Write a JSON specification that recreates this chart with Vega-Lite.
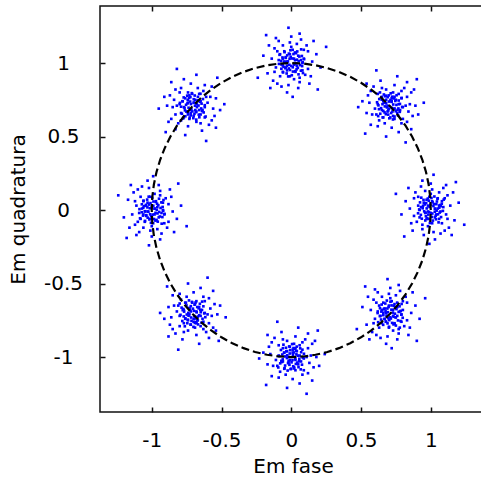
{
"$schema": "https://vega.github.io/schema/vega-lite/v6.json",
"width": 386, "height": 406,
"autosize": {"type": "none"},
"padding": {"left": 100, "top": 6, "right": 0, "bottom": 67},
"background": "white",
"config": {
  "view": {"stroke": "#111", "strokeWidth": 1.5},
  "axis": {"labelFont": "DejaVu Sans", "titleFont": "DejaVu Sans", "labelFontSize": 20, "titleFontSize": 20, "titleFontWeight": "normal", "labelColor": "black", "titleColor": "black", "tickColor": "#111", "tickWidth": 1.5, "tickSize": -5, "domain": false, "grid": false}
},
"datasets": {
"pts": [
{"x":1.03,"y":-0.05},{"x":0.93,"y":0.02},{"x":1.10,"y":0.08},{"x":0.98,"y":-0.11},{"x":1.05,"y":0.01},{"x":0.88,"y":-0.04},{"x":1.01,"y":0.06},{"x":1.08,"y":-0.09},{"x":0.96,"y":0.13},{"x":1.00,"y":-0.02},
{"x":1.14,"y":0.03},{"x":0.91,"y":0.09},{"x":1.06,"y":0.12},{"x":0.97,"y":-0.06},{"x":0.85,"y":0.01},{"x":1.02,"y":-0.15},{"x":1.11,"y":-0.03},{"x":0.94,"y":-0.13},{"x":1.04,"y":0.04},{"x":0.99,"y":0.09},
{"x":1.09,"y":0.15},{"x":0.90,"y":-0.08},{"x":1.07,"y":-0.01},{"x":0.95,"y":0.05},{"x":1.17,"y":-0.07},{"x":0.92,"y":0.00},{"x":1.00,"y":0.18},{"x":1.03,"y":-0.20},{"x":0.82,"y":0.06},{"x":1.12,"y":0.10},
{"x":0.98,"y":0.03},{"x":1.06,"y":-0.06},{"x":0.89,"y":0.12},{"x":1.13,"y":-0.12},{"x":0.96,"y":-0.02},{"x":1.01,"y":-0.09},{"x":0.93,"y":0.16},{"x":1.09,"y":0.02},{"x":0.87,"y":-0.14},{"x":1.05,"y":0.08},
{"x":1.20,"y":0.05},{"x":0.79,"y":-0.03},{"x":1.02,"y":0.24},{"x":0.99,"y":-0.23},{"x":1.15,"y":-0.17},{"x":0.84,"y":0.15},{"x":1.08,"y":0.06},{"x":0.94,"y":-0.10},{"x":1.04,"y":-0.03},{"x":0.97,"y":0.07},
{"x":1.10,"y":-0.14},{"x":0.91,"y":0.03},{"x":1.00,"y":0.11},{"x":1.07,"y":-0.16},{"x":0.88,"y":0.08},{"x":1.16,"y":0.12},{"x":0.95,"y":-0.17},{"x":1.03,"y":0.01},{"x":0.92,"y":-0.05},{"x":1.11,"y":0.17},
{"x":1.24,"y":-0.10},{"x":0.75,"y":0.11},{"x":1.06,"y":0.03},{"x":0.98,"y":-0.01},{"x":1.01,"y":0.14},{"x":0.86,"y":-0.09},{"x":1.12,"y":-0.06},{"x":0.94,"y":0.20},{"x":1.18,"y":0.19},{"x":0.81,"y":-0.18},
{"x":1.023,"y":0.041},{"x":0.963,"y":-0.018},{"x":1.052,"y":-0.029},{"x":0.986,"y":0.063},{"x":1.008,"y":-0.047},{"x":0.942,"y":0.012},{"x":1.031,"y":0.007},{"x":0.974,"y":-0.055},{"x":1.067,"y":0.034},{"x":0.957,"y":0.038},
{"x":1.015,"y":-0.072},{"x":0.929,"y":-0.033},{"x":1.044,"y":0.058},{"x":0.991,"y":0.021},{"x":1.029,"y":-0.012},{"x":0.948,"y":0.069},{"x":1.074,"y":-0.048},{"x":0.982,"y":-0.031},{"x":1.005,"y":0.082},{"x":0.917,"y":0.004},
{"x":1.038,"y":-0.063},{"x":0.967,"y":0.047},{"x":1.061,"y":0.016},{"x":0.994,"y":-0.088},{"x":1.019,"y":0.027},{"x":0.936,"y":-0.059},{"x":1.087,"y":-0.006},{"x":0.971,"y":0.011},{"x":1.048,"y":0.076},{"x":0.953,"y":-0.009},
{"x":1.011,"y":-0.024},{"x":0.923,"y":0.052},{"x":1.056,"y":-0.084},{"x":0.979,"y":0.078},{"x":1.035,"y":-0.039},{"x":0.961,"y":-0.071},{"x":1.079,"y":0.043},{"x":0.988,"y":-0.014},{"x":1.026,"y":0.092},{"x":0.909,"y":-0.022},
{"x":1.064,"y":-0.017},{"x":0.945,"y":0.029},{"x":1.013,"y":0.053},{"x":0.965,"y":-0.042},{"x":1.042,"y":-0.004},{"x":0.998,"y":0.036},{"x":1.093,"y":0.071},{"x":0.932,"y":0.084},{"x":1.071,"y":0.026},{"x":0.984,"y":-0.061},

{"x":0.66,"y":0.74},{"x":0.73,"y":0.64},{"x":0.79,"y":0.81},{"x":0.60,"y":0.69},{"x":0.72,"y":0.76},{"x":0.67,"y":0.59},{"x":0.77,"y":0.72},{"x":0.62,"y":0.79},{"x":0.84,"y":0.67},{"x":0.69,"y":0.71},
{"x":0.74,"y":0.85},{"x":0.80,"y":0.62},{"x":0.83,"y":0.77},{"x":0.65,"y":0.68},{"x":0.72,"y":0.56},{"x":0.56,"y":0.73},{"x":0.68,"y":0.82},{"x":0.58,"y":0.65},{"x":0.75,"y":0.75},{"x":0.80,"y":0.70},
{"x":0.86,"y":0.80},{"x":0.63,"y":0.61},{"x":0.70,"y":0.78},{"x":0.76,"y":0.66},{"x":0.64,"y":0.88},{"x":0.71,"y":0.63},{"x":0.89,"y":0.71},{"x":0.51,"y":0.74},{"x":0.77,"y":0.53},{"x":0.81,"y":0.83},
{"x":0.74,"y":0.69},{"x":0.65,"y":0.77},{"x":0.83,"y":0.60},{"x":0.59,"y":0.84},{"x":0.69,"y":0.67},{"x":0.62,"y":0.72},{"x":0.87,"y":0.64},{"x":0.73,"y":0.80},{"x":0.57,"y":0.58},{"x":0.79,"y":0.76},
{"x":0.76,"y":0.91},{"x":0.68,"y":0.50},{"x":0.95,"y":0.73},{"x":0.48,"y":0.70},{"x":0.54,"y":0.86},{"x":0.86,"y":0.55},{"x":0.77,"y":0.79},{"x":0.61,"y":0.65},{"x":0.68,"y":0.75},{"x":0.78,"y":0.68},
{"x":0.57,"y":0.81},{"x":0.74,"y":0.62},{"x":0.82,"y":0.71},{"x":0.55,"y":0.78},{"x":0.79,"y":0.59},{"x":0.83,"y":0.87},{"x":0.54,"y":0.66},{"x":0.72,"y":0.74},{"x":0.66,"y":0.63},{"x":0.88,"y":0.82},
{"x":0.61,"y":0.95},{"x":0.82,"y":0.46},{"x":0.74,"y":0.77},{"x":0.70,"y":0.69},{"x":0.85,"y":0.72},{"x":0.62,"y":0.57},{"x":0.65,"y":0.83},{"x":0.91,"y":0.65},{"x":0.90,"y":0.89},{"x":0.53,"y":0.52},
{"x":0.666,"y":0.730},{"x":0.725,"y":0.670},{"x":0.736,"y":0.759},{"x":0.644,"y":0.693},{"x":0.754,"y":0.715},{"x":0.695,"y":0.649},{"x":0.700,"y":0.738},{"x":0.762,"y":0.681},{"x":0.673,"y":0.774},{"x":0.669,"y":0.664},
{"x":0.779,"y":0.722},{"x":0.740,"y":0.636},{"x":0.649,"y":0.751},{"x":0.686,"y":0.698},{"x":0.719,"y":0.736},{"x":0.638,"y":0.655},{"x":0.755,"y":0.781},{"x":0.738,"y":0.689},{"x":0.625,"y":0.712},{"x":0.703,"y":0.624},
{"x":0.770,"y":0.745},{"x":0.660,"y":0.674},{"x":0.691,"y":0.768},{"x":0.795,"y":0.701},{"x":0.680,"y":0.726},{"x":0.766,"y":0.643},{"x":0.713,"y":0.794},{"x":0.696,"y":0.678},{"x":0.631,"y":0.755},{"x":0.716,"y":0.660},
{"x":0.731,"y":0.718},{"x":0.655,"y":0.630},{"x":0.791,"y":0.763},{"x":0.629,"y":0.686},{"x":0.746,"y":0.742},{"x":0.778,"y":0.668},{"x":0.664,"y":0.786},{"x":0.721,"y":0.695},{"x":0.615,"y":0.733},{"x":0.729,"y":0.616},
{"x":0.724,"y":0.771},{"x":0.678,"y":0.652},{"x":0.654,"y":0.720},{"x":0.749,"y":0.672},{"x":0.711,"y":0.749},{"x":0.671,"y":0.705},{"x":0.636,"y":0.800},{"x":0.623,"y":0.639},{"x":0.681,"y":0.778},{"x":0.768,"y":0.691},

{"x":-0.03,"y":0.95},{"x":0.07,"y":1.02},{"x":-0.10,"y":1.08},{"x":0.02,"y":0.89},{"x":-0.05,"y":1.01},{"x":0.12,"y":0.96},{"x":-0.01,"y":1.06},{"x":-0.08,"y":0.91},{"x":0.04,"y":1.13},{"x":0.00,"y":0.98},
{"x":-0.14,"y":1.03},{"x":0.09,"y":1.09},{"x":-0.06,"y":1.12},{"x":0.03,"y":0.94},{"x":0.15,"y":1.01},{"x":-0.02,"y":0.85},{"x":-0.11,"y":0.97},{"x":0.06,"y":0.87},{"x":-0.04,"y":1.04},{"x":0.01,"y":1.09},
{"x":-0.09,"y":1.15},{"x":0.10,"y":0.92},{"x":-0.07,"y":0.99},{"x":0.05,"y":1.05},{"x":-0.17,"y":0.93},{"x":0.08,"y":1.00},{"x":0.00,"y":1.18},{"x":-0.03,"y":0.80},{"x":0.18,"y":1.06},{"x":-0.12,"y":1.10},
{"x":0.02,"y":1.03},{"x":-0.06,"y":0.94},{"x":0.11,"y":1.12},{"x":-0.13,"y":0.88},{"x":0.04,"y":0.98},{"x":-0.01,"y":0.91},{"x":0.07,"y":1.16},{"x":-0.09,"y":1.02},{"x":0.13,"y":0.86},{"x":-0.05,"y":1.08},
{"x":-0.20,"y":1.05},{"x":0.21,"y":0.97},{"x":-0.02,"y":1.24},{"x":0.01,"y":0.77},{"x":-0.15,"y":0.83},{"x":0.16,"y":1.15},{"x":-0.08,"y":1.06},{"x":0.06,"y":0.90},{"x":-0.04,"y":0.97},{"x":0.03,"y":1.07},
{"x":-0.10,"y":0.86},{"x":0.09,"y":1.03},{"x":0.00,"y":1.11},{"x":-0.07,"y":0.84},{"x":0.12,"y":1.08},{"x":-0.16,"y":1.12},{"x":0.05,"y":0.83},{"x":-0.03,"y":1.01},{"x":0.08,"y":0.95},{"x":-0.11,"y":1.17},
{"x":-0.24,"y":0.90},{"x":0.25,"y":1.11},{"x":-0.06,"y":1.03},{"x":0.02,"y":0.99},{"x":-0.01,"y":1.14},{"x":0.14,"y":0.91},{"x":-0.12,"y":0.94},{"x":0.06,"y":1.20},{"x":-0.18,"y":1.19},{"x":0.19,"y":0.82},
{"x":0.041,"y":1.023},{"x":-0.018,"y":0.963},{"x":-0.029,"y":1.052},{"x":0.063,"y":0.986},{"x":-0.047,"y":1.008},{"x":0.012,"y":0.942},{"x":0.007,"y":1.031},{"x":-0.055,"y":0.974},{"x":0.034,"y":1.067},{"x":0.038,"y":0.957},
{"x":-0.072,"y":1.015},{"x":-0.033,"y":0.929},{"x":0.058,"y":1.044},{"x":0.021,"y":0.991},{"x":-0.012,"y":1.029},{"x":0.069,"y":0.948},{"x":-0.048,"y":1.074},{"x":-0.031,"y":0.982},{"x":0.082,"y":1.005},{"x":0.004,"y":0.917},
{"x":-0.063,"y":1.038},{"x":0.047,"y":0.967},{"x":0.016,"y":1.061},{"x":-0.088,"y":0.994},{"x":0.027,"y":1.019},{"x":-0.059,"y":0.936},{"x":-0.006,"y":1.087},{"x":0.011,"y":0.971},{"x":0.076,"y":1.048},{"x":-0.009,"y":0.953},
{"x":-0.024,"y":1.011},{"x":0.052,"y":0.923},{"x":-0.084,"y":1.056},{"x":0.078,"y":0.979},{"x":-0.039,"y":1.035},{"x":-0.071,"y":0.961},{"x":0.043,"y":1.079},{"x":-0.014,"y":0.988},{"x":0.092,"y":1.026},{"x":-0.022,"y":0.909},
{"x":-0.017,"y":1.064},{"x":0.029,"y":0.945},{"x":0.053,"y":1.013},{"x":-0.042,"y":0.965},{"x":-0.004,"y":1.042},{"x":0.036,"y":0.998},{"x":0.071,"y":1.093},{"x":0.084,"y":0.932},{"x":0.026,"y":1.071},{"x":-0.061,"y":0.984},

{"x":-0.66,"y":0.68},{"x":-0.73,"y":0.78},{"x":-0.79,"y":0.61},{"x":-0.60,"y":0.73},{"x":-0.72,"y":0.66},{"x":-0.67,"y":0.83},{"x":-0.77,"y":0.70},{"x":-0.62,"y":0.63},{"x":-0.84,"y":0.75},{"x":-0.69,"y":0.71},
{"x":-0.74,"y":0.57},{"x":-0.80,"y":0.80},{"x":-0.83,"y":0.65},{"x":-0.65,"y":0.74},{"x":-0.72,"y":0.86},{"x":-0.56,"y":0.69},{"x":-0.68,"y":0.60},{"x":-0.58,"y":0.77},{"x":-0.75,"y":0.67},{"x":-0.80,"y":0.72},
{"x":-0.86,"y":0.62},{"x":-0.63,"y":0.81},{"x":-0.70,"y":0.64},{"x":-0.76,"y":0.76},{"x":-0.64,"y":0.54},{"x":-0.71,"y":0.79},{"x":-0.89,"y":0.71},{"x":-0.51,"y":0.68},{"x":-0.77,"y":0.89},{"x":-0.81,"y":0.59},
{"x":-0.74,"y":0.73},{"x":-0.65,"y":0.65},{"x":-0.83,"y":0.82},{"x":-0.59,"y":0.58},{"x":-0.69,"y":0.75},{"x":-0.62,"y":0.70},{"x":-0.87,"y":0.78},{"x":-0.73,"y":0.62},{"x":-0.57,"y":0.84},{"x":-0.79,"y":0.66},
{"x":-0.76,"y":0.51},{"x":-0.68,"y":0.92},{"x":-0.95,"y":0.69},{"x":-0.48,"y":0.72},{"x":-0.54,"y":0.56},{"x":-0.86,"y":0.87},{"x":-0.77,"y":0.63},{"x":-0.61,"y":0.77},{"x":-0.68,"y":0.67},{"x":-0.78,"y":0.74},
{"x":-0.57,"y":0.61},{"x":-0.74,"y":0.80},{"x":-0.82,"y":0.71},{"x":-0.55,"y":0.64},{"x":-0.79,"y":0.83},{"x":-0.83,"y":0.55},{"x":-0.54,"y":0.76},{"x":-0.72,"y":0.68},{"x":-0.66,"y":0.79},{"x":-0.88,"y":0.60},
{"x":-0.61,"y":0.47},{"x":-0.82,"y":0.96},{"x":-0.74,"y":0.65},{"x":-0.70,"y":0.73},{"x":-0.85,"y":0.70},{"x":-0.62,"y":0.85},{"x":-0.65,"y":0.59},{"x":-0.91,"y":0.77},{"x":-0.90,"y":0.53},{"x":-0.53,"y":0.90},
{"x":-0.684,"y":0.666},{"x":-0.744,"y":0.725},{"x":-0.655,"y":0.736},{"x":-0.721,"y":0.644},{"x":-0.699,"y":0.754},{"x":-0.765,"y":0.695},{"x":-0.676,"y":0.700},{"x":-0.733,"y":0.762},{"x":-0.640,"y":0.673},{"x":-0.750,"y":0.669},
{"x":-0.692,"y":0.779},{"x":-0.778,"y":0.740},{"x":-0.663,"y":0.649},{"x":-0.716,"y":0.686},{"x":-0.678,"y":0.719},{"x":-0.759,"y":0.638},{"x":-0.633,"y":0.755},{"x":-0.725,"y":0.738},{"x":-0.702,"y":0.625},{"x":-0.790,"y":0.703},
{"x":-0.669,"y":0.770},{"x":-0.740,"y":0.660},{"x":-0.646,"y":0.691},{"x":-0.713,"y":0.795},{"x":-0.688,"y":0.680},{"x":-0.771,"y":0.766},{"x":-0.620,"y":0.713},{"x":-0.736,"y":0.696},{"x":-0.659,"y":0.631},{"x":-0.754,"y":0.716},
{"x":-0.696,"y":0.731},{"x":-0.784,"y":0.655},{"x":-0.651,"y":0.791},{"x":-0.728,"y":0.629},{"x":-0.672,"y":0.746},{"x":-0.746,"y":0.778},{"x":-0.628,"y":0.664},{"x":-0.719,"y":0.721},{"x":-0.681,"y":0.615},{"x":-0.798,"y":0.729},
{"x":-0.643,"y":0.724},{"x":-0.762,"y":0.678},{"x":-0.694,"y":0.654},{"x":-0.742,"y":0.749},{"x":-0.665,"y":0.711},{"x":-0.709,"y":0.671},{"x":-0.614,"y":0.636},{"x":-0.775,"y":0.623},{"x":-0.636,"y":0.681},{"x":-0.723,"y":0.768},

{"x":-1.03,"y":0.05},{"x":-0.93,"y":-0.02},{"x":-1.10,"y":-0.08},{"x":-0.98,"y":0.11},{"x":-1.05,"y":-0.01},{"x":-0.88,"y":0.04},{"x":-1.01,"y":-0.06},{"x":-1.08,"y":0.09},{"x":-0.96,"y":-0.13},{"x":-1.00,"y":0.02},
{"x":-1.14,"y":-0.03},{"x":-0.91,"y":-0.09},{"x":-1.06,"y":-0.12},{"x":-0.97,"y":0.06},{"x":-0.85,"y":-0.01},{"x":-1.02,"y":0.15},{"x":-1.11,"y":0.03},{"x":-0.94,"y":0.13},{"x":-1.04,"y":-0.04},{"x":-0.99,"y":-0.09},
{"x":-1.09,"y":-0.15},{"x":-0.90,"y":0.08},{"x":-1.07,"y":0.01},{"x":-0.95,"y":-0.05},{"x":-1.17,"y":0.07},{"x":-0.92,"y":0.00},{"x":-1.00,"y":-0.18},{"x":-1.03,"y":0.20},{"x":-0.82,"y":-0.06},{"x":-1.12,"y":-0.10},
{"x":-0.98,"y":-0.03},{"x":-1.06,"y":0.06},{"x":-0.89,"y":-0.12},{"x":-1.13,"y":0.12},{"x":-0.96,"y":0.02},{"x":-1.01,"y":0.09},{"x":-0.93,"y":-0.16},{"x":-1.09,"y":-0.02},{"x":-0.87,"y":0.14},{"x":-1.05,"y":-0.08},
{"x":-1.20,"y":-0.05},{"x":-0.79,"y":0.03},{"x":-1.02,"y":-0.24},{"x":-0.99,"y":0.23},{"x":-1.15,"y":0.17},{"x":-0.84,"y":-0.15},{"x":-1.08,"y":-0.06},{"x":-0.94,"y":0.10},{"x":-1.04,"y":0.03},{"x":-0.97,"y":-0.07},
{"x":-1.10,"y":0.14},{"x":-0.91,"y":-0.03},{"x":-1.00,"y":-0.11},{"x":-1.07,"y":0.16},{"x":-0.88,"y":-0.08},{"x":-1.16,"y":-0.12},{"x":-0.95,"y":0.17},{"x":-1.03,"y":-0.01},{"x":-0.92,"y":0.05},{"x":-1.11,"y":-0.17},
{"x":-1.24,"y":0.10},{"x":-0.75,"y":-0.11},{"x":-1.06,"y":-0.03},{"x":-0.98,"y":0.01},{"x":-1.01,"y":-0.14},{"x":-0.86,"y":0.09},{"x":-1.12,"y":0.06},{"x":-0.94,"y":-0.20},{"x":-1.18,"y":-0.19},{"x":-0.81,"y":0.18},
{"x":-0.959,"y":-0.023},{"x":-1.018,"y":0.037},{"x":-1.029,"y":-0.052},{"x":-0.937,"y":0.014},{"x":-1.047,"y":-0.008},{"x":-0.988,"y":0.058},{"x":-0.993,"y":-0.031},{"x":-1.055,"y":0.026},{"x":-0.966,"y":-0.067},{"x":-0.962,"y":0.043},
{"x":-1.072,"y":-0.015},{"x":-1.033,"y":0.071},{"x":-0.942,"y":-0.044},{"x":-0.979,"y":0.009},{"x":-1.012,"y":-0.029},{"x":-0.931,"y":0.052},{"x":-1.048,"y":-0.074},{"x":-1.031,"y":0.018},{"x":-0.918,"y":-0.005},{"x":-0.996,"y":0.083},
{"x":-1.063,"y":-0.038},{"x":-0.953,"y":0.033},{"x":-0.984,"y":-0.061},{"x":-1.088,"y":0.006},{"x":-0.973,"y":-0.019},{"x":-1.059,"y":0.064},{"x":-1.006,"y":-0.087},{"x":-0.989,"y":0.029},{"x":-0.924,"y":-0.048},{"x":-1.009,"y":0.047},
{"x":-1.024,"y":-0.011},{"x":-0.948,"y":0.077},{"x":-1.084,"y":-0.056},{"x":-0.922,"y":0.021},{"x":-1.039,"y":-0.035},{"x":-1.071,"y":0.039},{"x":-0.957,"y":-0.079},{"x":-1.014,"y":0.012},{"x":-0.908,"y":-0.026},{"x":-1.022,"y":0.091},
{"x":-1.017,"y":-0.064},{"x":-0.971,"y":0.055},{"x":-0.947,"y":-0.013},{"x":-1.042,"y":0.035},{"x":-1.004,"y":-0.042},{"x":-0.964,"y":0.002},{"x":-0.929,"y":-0.093},{"x":-0.916,"y":0.068},{"x":-0.974,"y":-0.071},{"x":-1.061,"y":0.016},

{"x":-0.76,"y":-0.74},{"x":-0.69,"y":-0.64},{"x":-0.63,"y":-0.81},{"x":-0.82,"y":-0.69},{"x":-0.70,"y":-0.76},{"x":-0.75,"y":-0.59},{"x":-0.65,"y":-0.72},{"x":-0.80,"y":-0.79},{"x":-0.58,"y":-0.67},{"x":-0.73,"y":-0.71},
{"x":-0.68,"y":-0.85},{"x":-0.62,"y":-0.62},{"x":-0.59,"y":-0.77},{"x":-0.77,"y":-0.68},{"x":-0.70,"y":-0.56},{"x":-0.86,"y":-0.73},{"x":-0.74,"y":-0.82},{"x":-0.84,"y":-0.65},{"x":-0.67,"y":-0.75},{"x":-0.62,"y":-0.70},
{"x":-0.56,"y":-0.80},{"x":-0.79,"y":-0.61},{"x":-0.72,"y":-0.78},{"x":-0.66,"y":-0.66},{"x":-0.78,"y":-0.88},{"x":-0.71,"y":-0.63},{"x":-0.53,"y":-0.71},{"x":-0.91,"y":-0.74},{"x":-0.65,"y":-0.53},{"x":-0.61,"y":-0.83},
{"x":-0.68,"y":-0.69},{"x":-0.77,"y":-0.77},{"x":-0.59,"y":-0.60},{"x":-0.83,"y":-0.84},{"x":-0.73,"y":-0.67},{"x":-0.80,"y":-0.72},{"x":-0.55,"y":-0.64},{"x":-0.69,"y":-0.80},{"x":-0.85,"y":-0.58},{"x":-0.63,"y":-0.76},
{"x":-0.66,"y":-0.91},{"x":-0.74,"y":-0.50},{"x":-0.47,"y":-0.73},{"x":-0.94,"y":-0.70},{"x":-0.88,"y":-0.86},{"x":-0.56,"y":-0.55},{"x":-0.65,"y":-0.79},{"x":-0.81,"y":-0.65},{"x":-0.74,"y":-0.75},{"x":-0.64,"y":-0.68},
{"x":-0.85,"y":-0.81},{"x":-0.68,"y":-0.62},{"x":-0.60,"y":-0.71},{"x":-0.87,"y":-0.78},{"x":-0.63,"y":-0.59},{"x":-0.59,"y":-0.87},{"x":-0.88,"y":-0.66},{"x":-0.70,"y":-0.74},{"x":-0.76,"y":-0.63},{"x":-0.54,"y":-0.82},
{"x":-0.81,"y":-0.95},{"x":-0.60,"y":-0.46},{"x":-0.68,"y":-0.77},{"x":-0.72,"y":-0.69},{"x":-0.57,"y":-0.72},{"x":-0.80,"y":-0.57},{"x":-0.77,"y":-0.83},{"x":-0.51,"y":-0.65},{"x":-0.52,"y":-0.89},{"x":-0.89,"y":-0.52},
{"x":-0.730,"y":-0.666},{"x":-0.670,"y":-0.725},{"x":-0.759,"y":-0.736},{"x":-0.693,"y":-0.644},{"x":-0.715,"y":-0.754},{"x":-0.649,"y":-0.695},{"x":-0.738,"y":-0.700},{"x":-0.681,"y":-0.762},{"x":-0.774,"y":-0.673},{"x":-0.664,"y":-0.669},
{"x":-0.722,"y":-0.779},{"x":-0.636,"y":-0.740},{"x":-0.751,"y":-0.649},{"x":-0.698,"y":-0.686},{"x":-0.736,"y":-0.719},{"x":-0.655,"y":-0.638},{"x":-0.781,"y":-0.755},{"x":-0.689,"y":-0.738},{"x":-0.712,"y":-0.625},{"x":-0.624,"y":-0.703},
{"x":-0.745,"y":-0.770},{"x":-0.674,"y":-0.660},{"x":-0.768,"y":-0.691},{"x":-0.701,"y":-0.795},{"x":-0.726,"y":-0.680},{"x":-0.643,"y":-0.766},{"x":-0.794,"y":-0.713},{"x":-0.678,"y":-0.696},{"x":-0.755,"y":-0.631},{"x":-0.660,"y":-0.716},
{"x":-0.718,"y":-0.731},{"x":-0.630,"y":-0.655},{"x":-0.763,"y":-0.791},{"x":-0.686,"y":-0.629},{"x":-0.742,"y":-0.746},{"x":-0.668,"y":-0.778},{"x":-0.786,"y":-0.664},{"x":-0.695,"y":-0.721},{"x":-0.733,"y":-0.615},{"x":-0.616,"y":-0.729},
{"x":-0.771,"y":-0.724},{"x":-0.652,"y":-0.678},{"x":-0.720,"y":-0.654},{"x":-0.672,"y":-0.749},{"x":-0.749,"y":-0.711},{"x":-0.705,"y":-0.671},{"x":-0.800,"y":-0.636},{"x":-0.639,"y":-0.623},{"x":-0.778,"y":-0.681},{"x":-0.691,"y":-0.768},

{"x":-0.05,"y":-0.97},{"x":0.02,"y":-1.07},{"x":0.08,"y":-0.90},{"x":-0.11,"y":-1.02},{"x":0.01,"y":-0.95},{"x":-0.04,"y":-1.12},{"x":0.06,"y":-0.99},{"x":-0.09,"y":-0.92},{"x":0.13,"y":-1.04},{"x":-0.02,"y":-1.00},
{"x":0.03,"y":-0.86},{"x":0.09,"y":-1.09},{"x":0.12,"y":-0.94},{"x":-0.06,"y":-1.03},{"x":0.01,"y":-1.15},{"x":-0.15,"y":-0.98},{"x":-0.03,"y":-0.89},{"x":-0.13,"y":-1.06},{"x":0.04,"y":-0.96},{"x":0.09,"y":-1.01},
{"x":0.15,"y":-0.91},{"x":-0.08,"y":-1.10},{"x":-0.01,"y":-0.93},{"x":0.05,"y":-1.05},{"x":-0.07,"y":-0.83},{"x":0.00,"y":-1.08},{"x":0.18,"y":-1.00},{"x":-0.20,"y":-0.97},{"x":0.06,"y":-1.18},{"x":0.10,"y":-0.88},
{"x":0.03,"y":-1.02},{"x":-0.06,"y":-0.94},{"x":0.12,"y":-1.11},{"x":-0.12,"y":-0.87},{"x":-0.02,"y":-1.04},{"x":-0.09,"y":-0.99},{"x":0.16,"y":-1.07},{"x":0.02,"y":-0.91},{"x":-0.14,"y":-1.13},{"x":0.08,"y":-0.95},
{"x":0.05,"y":-0.80},{"x":-0.03,"y":-1.21},{"x":0.24,"y":-0.98},{"x":-0.23,"y":-1.01},{"x":-0.17,"y":-0.85},{"x":0.15,"y":-1.16},{"x":0.06,"y":-0.92},{"x":-0.10,"y":-1.06},{"x":-0.03,"y":-0.96},{"x":0.07,"y":-1.03},
{"x":-0.14,"y":-0.90},{"x":0.03,"y":-1.09},{"x":0.11,"y":-1.00},{"x":-0.16,"y":-0.93},{"x":0.08,"y":-1.12},{"x":0.12,"y":-0.84},{"x":-0.17,"y":-1.05},{"x":0.01,"y":-0.97},{"x":-0.05,"y":-1.08},{"x":0.17,"y":-0.89},
{"x":-0.10,"y":-0.76},{"x":0.11,"y":-1.25},{"x":0.03,"y":-0.94},{"x":-0.01,"y":-1.02},{"x":0.14,"y":-0.99},{"x":-0.09,"y":-1.14},{"x":-0.06,"y":-0.88},{"x":0.20,"y":-1.06},{"x":0.19,"y":-0.82},{"x":-0.18,"y":-1.19},
{"x":-0.023,"y":-1.041},{"x":0.037,"y":-0.982},{"x":-0.052,"y":-0.971},{"x":0.014,"y":-1.063},{"x":-0.008,"y":-0.953},{"x":0.058,"y":-1.012},{"x":-0.031,"y":-1.007},{"x":0.026,"y":-0.945},{"x":-0.067,"y":-1.034},{"x":0.043,"y":-1.038},
{"x":-0.015,"y":-0.928},{"x":0.071,"y":-0.967},{"x":-0.044,"y":-1.058},{"x":0.009,"y":-1.021},{"x":-0.029,"y":-0.988},{"x":0.052,"y":-1.069},{"x":-0.074,"y":-0.952},{"x":0.018,"y":-0.969},{"x":-0.005,"y":-1.082},{"x":0.083,"y":-1.004},
{"x":-0.038,"y":-0.937},{"x":0.033,"y":-1.047},{"x":-0.061,"y":-1.016},{"x":0.006,"y":-0.912},{"x":-0.019,"y":-1.027},{"x":0.064,"y":-0.941},{"x":-0.087,"y":-0.994},{"x":0.029,"y":-1.011},{"x":-0.048,"y":-1.076},{"x":0.047,"y":-0.991},
{"x":-0.011,"y":-0.976},{"x":0.077,"y":-1.052},{"x":-0.056,"y":-0.916},{"x":0.021,"y":-1.078},{"x":-0.035,"y":-0.961},{"x":0.039,"y":-0.929},{"x":-0.079,"y":-1.043},{"x":0.012,"y":-0.986},{"x":-0.026,"y":-1.092},{"x":0.091,"y":-0.978},
{"x":-0.064,"y":-0.983},{"x":0.055,"y":-1.029},{"x":-0.013,"y":-1.053},{"x":0.035,"y":-0.958},{"x":-0.042,"y":-0.996},{"x":0.002,"y":-1.036},{"x":-0.093,"y":-1.071},{"x":0.068,"y":-1.084},{"x":-0.071,"y":-1.026},{"x":0.016,"y":-0.939},

{"x":0.68,"y":-0.76},{"x":0.78,"y":-0.69},{"x":0.61,"y":-0.63},{"x":0.73,"y":-0.82},{"x":0.66,"y":-0.70},{"x":0.83,"y":-0.75},{"x":0.70,"y":-0.65},{"x":0.63,"y":-0.80},{"x":0.75,"y":-0.58},{"x":0.71,"y":-0.73},
{"x":0.57,"y":-0.68},{"x":0.80,"y":-0.62},{"x":0.65,"y":-0.59},{"x":0.74,"y":-0.77},{"x":0.86,"y":-0.70},{"x":0.69,"y":-0.86},{"x":0.60,"y":-0.74},{"x":0.77,"y":-0.84},{"x":0.67,"y":-0.67},{"x":0.72,"y":-0.62},
{"x":0.62,"y":-0.56},{"x":0.81,"y":-0.79},{"x":0.64,"y":-0.72},{"x":0.76,"y":-0.66},{"x":0.54,"y":-0.78},{"x":0.79,"y":-0.71},{"x":0.71,"y":-0.53},{"x":0.68,"y":-0.91},{"x":0.89,"y":-0.65},{"x":0.59,"y":-0.61},
{"x":0.73,"y":-0.68},{"x":0.65,"y":-0.77},{"x":0.82,"y":-0.59},{"x":0.58,"y":-0.83},{"x":0.75,"y":-0.73},{"x":0.70,"y":-0.80},{"x":0.78,"y":-0.55},{"x":0.62,"y":-0.69},{"x":0.84,"y":-0.85},{"x":0.66,"y":-0.63},
{"x":0.51,"y":-0.66},{"x":0.92,"y":-0.74},{"x":0.69,"y":-0.47},{"x":0.72,"y":-0.94},{"x":0.56,"y":-0.88},{"x":0.87,"y":-0.56},{"x":0.63,"y":-0.65},{"x":0.77,"y":-0.81},{"x":0.67,"y":-0.74},{"x":0.74,"y":-0.64},
{"x":0.61,"y":-0.85},{"x":0.80,"y":-0.68},{"x":0.71,"y":-0.60},{"x":0.64,"y":-0.87},{"x":0.83,"y":-0.63},{"x":0.55,"y":-0.59},{"x":0.76,"y":-0.88},{"x":0.68,"y":-0.70},{"x":0.79,"y":-0.76},{"x":0.60,"y":-0.54},
{"x":0.47,"y":-0.81},{"x":0.96,"y":-0.60},{"x":0.65,"y":-0.68},{"x":0.73,"y":-0.72},{"x":0.70,"y":-0.57},{"x":0.85,"y":-0.80},{"x":0.59,"y":-0.77},{"x":0.77,"y":-0.51},{"x":0.53,"y":-0.52},{"x":0.90,"y":-0.89},
{"x":0.748,"y":-0.730},{"x":0.689,"y":-0.670},{"x":0.678,"y":-0.759},{"x":0.770,"y":-0.693},{"x":0.660,"y":-0.715},{"x":0.719,"y":-0.649},{"x":0.714,"y":-0.738},{"x":0.652,"y":-0.681},{"x":0.741,"y":-0.774},{"x":0.745,"y":-0.664},
{"x":0.635,"y":-0.722},{"x":0.674,"y":-0.636},{"x":0.765,"y":-0.751},{"x":0.728,"y":-0.698},{"x":0.695,"y":-0.736},{"x":0.776,"y":-0.655},{"x":0.659,"y":-0.781},{"x":0.676,"y":-0.689},{"x":0.789,"y":-0.712},{"x":0.711,"y":-0.624},
{"x":0.644,"y":-0.745},{"x":0.754,"y":-0.674},{"x":0.723,"y":-0.768},{"x":0.619,"y":-0.701},{"x":0.734,"y":-0.726},{"x":0.648,"y":-0.643},{"x":0.701,"y":-0.794},{"x":0.718,"y":-0.678},{"x":0.783,"y":-0.755},{"x":0.698,"y":-0.660},
{"x":0.683,"y":-0.718},{"x":0.759,"y":-0.630},{"x":0.623,"y":-0.763},{"x":0.785,"y":-0.686},{"x":0.668,"y":-0.742},{"x":0.636,"y":-0.668},{"x":0.750,"y":-0.786},{"x":0.693,"y":-0.695},{"x":0.799,"y":-0.733},{"x":0.685,"y":-0.616},
{"x":0.690,"y":-0.771},{"x":0.736,"y":-0.652},{"x":0.760,"y":-0.720},{"x":0.665,"y":-0.672},{"x":0.703,"y":-0.749},{"x":0.743,"y":-0.705},{"x":0.778,"y":-0.800},{"x":0.791,"y":-0.639},{"x":0.733,"y":-0.778},{"x":0.646,"y":-0.691}
],
"circle": [
{"a":0,"x":1,"y":0},{"a":5,"x":0.9962,"y":0.0872},{"a":10,"x":0.9848,"y":0.1736},{"a":15,"x":0.9659,"y":0.2588},{"a":20,"x":0.9397,"y":0.342},{"a":25,"x":0.9063,"y":0.4226},{"a":30,"x":0.866,"y":0.5},{"a":35,"x":0.8192,"y":0.5736},{"a":40,"x":0.766,"y":0.6428},{"a":45,"x":0.7071,"y":0.7071},
{"a":50,"x":0.6428,"y":0.766},{"a":55,"x":0.5736,"y":0.8192},{"a":60,"x":0.5,"y":0.866},{"a":65,"x":0.4226,"y":0.9063},{"a":70,"x":0.342,"y":0.9397},{"a":75,"x":0.2588,"y":0.9659},{"a":80,"x":0.1736,"y":0.9848},{"a":85,"x":0.0872,"y":0.9962},{"a":90,"x":0,"y":1},
{"a":95,"x":-0.0872,"y":0.9962},{"a":100,"x":-0.1736,"y":0.9848},{"a":105,"x":-0.2588,"y":0.9659},{"a":110,"x":-0.342,"y":0.9397},{"a":115,"x":-0.4226,"y":0.9063},{"a":120,"x":-0.5,"y":0.866},{"a":125,"x":-0.5736,"y":0.8192},{"a":130,"x":-0.6428,"y":0.766},{"a":135,"x":-0.7071,"y":0.7071},
{"a":140,"x":-0.766,"y":0.6428},{"a":145,"x":-0.8192,"y":0.5736},{"a":150,"x":-0.866,"y":0.5},{"a":155,"x":-0.9063,"y":0.4226},{"a":160,"x":-0.9397,"y":0.342},{"a":165,"x":-0.9659,"y":0.2588},{"a":170,"x":-0.9848,"y":0.1736},{"a":175,"x":-0.9962,"y":0.0872},{"a":180,"x":-1,"y":0},
{"a":185,"x":-0.9962,"y":-0.0872},{"a":190,"x":-0.9848,"y":-0.1736},{"a":195,"x":-0.9659,"y":-0.2588},{"a":200,"x":-0.9397,"y":-0.342},{"a":205,"x":-0.9063,"y":-0.4226},{"a":210,"x":-0.866,"y":-0.5},{"a":215,"x":-0.8192,"y":-0.5736},{"a":220,"x":-0.766,"y":-0.6428},{"a":225,"x":-0.7071,"y":-0.7071},
{"a":230,"x":-0.6428,"y":-0.766},{"a":235,"x":-0.5736,"y":-0.8192},{"a":240,"x":-0.5,"y":-0.866},{"a":245,"x":-0.4226,"y":-0.9063},{"a":250,"x":-0.342,"y":-0.9397},{"a":255,"x":-0.2588,"y":-0.9659},{"a":260,"x":-0.1736,"y":-0.9848},{"a":265,"x":-0.0872,"y":-0.9962},{"a":270,"x":0,"y":-1},
{"a":275,"x":0.0872,"y":-0.9962},{"a":280,"x":0.1736,"y":-0.9848},{"a":285,"x":0.2588,"y":-0.9659},{"a":290,"x":0.342,"y":-0.9397},{"a":295,"x":0.4226,"y":-0.9063},{"a":300,"x":0.5,"y":-0.866},{"a":305,"x":0.5736,"y":-0.8192},{"a":310,"x":0.6428,"y":-0.766},{"a":315,"x":0.7071,"y":-0.7071},
{"a":320,"x":0.766,"y":-0.6428},{"a":325,"x":0.8192,"y":-0.5736},{"a":330,"x":0.866,"y":-0.5},{"a":335,"x":0.9063,"y":-0.4226},{"a":340,"x":0.9397,"y":-0.342},{"a":345,"x":0.9659,"y":-0.2588},{"a":350,"x":0.9848,"y":-0.1736},{"a":355,"x":0.9962,"y":-0.0872},{"a":360,"x":1,"y":0}
]
},
"encoding": {
  "y": {"field": "y", "type": "quantitative", "scale": {"domain": [-1.374, 1.388], "nice": false, "zero": false},
        "axis": {"title": "Em quadratura", "values": [-1, -0.5, 0, 0.5, 1], "labelExpr": "'' + datum.value", "labelAlign": "center", "labelBaseline": "middle", "labelPadding": 42, "titlePadding": 15}}
},
"layer": [
  {
    "data": {"name": "pts"},
    "mark": {"type": "square", "size": 7, "color": "#0000ff", "opacity": 1, "filled": true},
    "encoding": {
      "x": {"field": "x", "type": "quantitative", "scale": {"domain": [-1.371, 1.396], "nice": false, "zero": false},
            "axis": {"orient": "bottom", "title": "Em fase", "values": [-1, -0.5, 0, 0.5, 1], "labelExpr": "'' + datum.value", "labelPadding": 23, "titlePadding": 6}}
    }
  },
  {
    "data": {"name": "circle"},
    "mark": {"type": "line", "color": "black", "strokeWidth": 2.2, "strokeDash": [8, 4]},
    "encoding": {
      "x": {"field": "x", "type": "quantitative", "axis": {"orient": "top", "title": null, "labels": false, "values": [-1, -0.5, 0, 0.5, 1]}},
      "order": {"field": "a", "type": "quantitative"}
    }
  }
],
"resolve": {"axis": {"x": "independent"}}
}
